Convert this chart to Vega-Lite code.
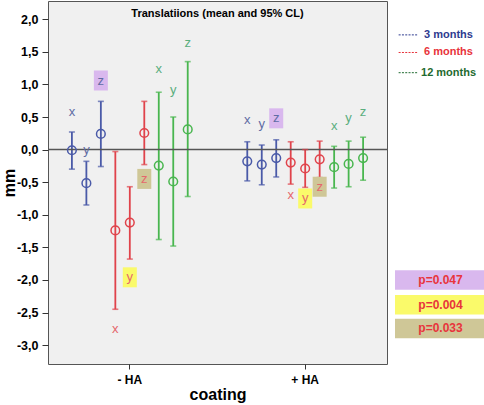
{
  "$schema": "https://vega.github.io/schema/vega-lite/v6.json",
  "padding": {"left": 0, "top": 0, "right": 0, "bottom": 0},
  "background": "white",
  "config": {"font": "Liberation Sans"},
  "spacing": 6,
  "datasets": {
    "points": [
      {"coating": "- HA", "item": 1, "month": "3 months", "axis": "x", "mean": -0.01, "lo": -0.30, "hi": 0.27, "lab": 0.57, "hl": ""},
      {"coating": "- HA", "item": 2, "month": "3 months", "axis": "y", "mean": -0.515, "lo": -0.85, "hi": -0.18, "lab": 0.0, "hl": ""},
      {"coating": "- HA", "item": 3, "month": "3 months", "axis": "z", "mean": 0.24, "lo": -0.26, "hi": 0.74, "lab": 1.06, "hl": "purple"},
      {"coating": "- HA", "item": 4, "month": "6 months", "axis": "x", "mean": -1.24, "lo": -2.45, "hi": -0.03, "lab": -2.76, "hl": ""},
      {"coating": "- HA", "item": 5, "month": "6 months", "axis": "y", "mean": -1.12, "lo": -1.68, "hi": -0.57, "lab": -1.96, "hl": "yellow"},
      {"coating": "- HA", "item": 6, "month": "6 months", "axis": "z", "mean": 0.255, "lo": -0.23, "hi": 0.74, "lab": -0.45, "hl": "tan"},
      {"coating": "- HA", "item": 7, "month": "12 months", "axis": "x", "mean": -0.245, "lo": -1.38, "hi": 0.88, "lab": 1.23, "hl": ""},
      {"coating": "- HA", "item": 8, "month": "12 months", "axis": "y", "mean": -0.49, "lo": -1.48, "hi": 0.50, "lab": 0.92, "hl": ""},
      {"coating": "- HA", "item": 9, "month": "12 months", "axis": "z", "mean": 0.31, "lo": -0.72, "hi": 1.35, "lab": 1.64, "hl": ""},
      {"coating": "+ HA", "item": 1, "month": "3 months", "axis": "x", "mean": -0.18, "lo": -0.48, "hi": 0.12, "lab": 0.45, "hl": ""},
      {"coating": "+ HA", "item": 2, "month": "3 months", "axis": "y", "mean": -0.23, "lo": -0.54, "hi": 0.07, "lab": 0.39, "hl": ""},
      {"coating": "+ HA", "item": 3, "month": "3 months", "axis": "z", "mean": -0.13, "lo": -0.42, "hi": 0.15, "lab": 0.48, "hl": "purple"},
      {"coating": "+ HA", "item": 4, "month": "6 months", "axis": "x", "mean": -0.20, "lo": -0.53, "hi": 0.12, "lab": -0.70, "hl": ""},
      {"coating": "+ HA", "item": 5, "month": "6 months", "axis": "y", "mean": -0.29, "lo": -0.58, "hi": 0.0, "lab": -0.75, "hl": "yellow"},
      {"coating": "+ HA", "item": 6, "month": "6 months", "axis": "z", "mean": -0.15, "lo": -0.43, "hi": 0.13, "lab": -0.57, "hl": "tan"},
      {"coating": "+ HA", "item": 7, "month": "12 months", "axis": "x", "mean": -0.27, "lo": -0.59, "hi": 0.05, "lab": 0.36, "hl": ""},
      {"coating": "+ HA", "item": 8, "month": "12 months", "axis": "y", "mean": -0.22, "lo": -0.57, "hi": 0.13, "lab": 0.48, "hl": ""},
      {"coating": "+ HA", "item": 9, "month": "12 months", "axis": "z", "mean": -0.13, "lo": -0.47, "hi": 0.19, "lab": 0.57, "hl": ""}
    ],
    "legend": [
      {"month": "3 months", "ly": 1.76},
      {"month": "6 months", "ly": 1.49},
      {"month": "12 months", "ly": 1.18}
    ],
    "pvals": [
      {"p": "p=0.047", "py": -2.0, "hl": "purple"},
      {"p": "p=0.004", "py": -2.38, "hl": "yellow"},
      {"p": "p=0.033", "py": -2.745, "hl": "tan"}
    ]
  },
  "hconcat": [
    {
      "width": 339,
      "height": 363,
      "view": {"fill": "#f0f0f0", "stroke": "#555555", "strokeWidth": 1},
      "data": {"name": "points"},
      "resolve": {"scale": {"color": "independent"}},
      "layer": [
        {
          "mark": {"type": "rule", "strokeWidth": 1.8},
          "encoding": {
            "x": {"field": "coating", "type": "nominal", "sort": ["- HA", "+ HA"], "scale": {"paddingInner": 0.257, "paddingOuter": 0.095},
              "axis": {"title": "coating", "titleFontSize": 16, "titleFontWeight": "bold", "titleColor": "black", "labelAngle": 0, "labelFontSize": 12, "labelFontWeight": "bold", "labelColor": "black", "tickSize": 5, "tickColor": "#333333", "labelPadding": 5, "domain": false, "titlePadding": 1}},
            "xOffset": {"field": "item", "type": "ordinal", "scale": {"paddingInner": 0, "paddingOuter": 0}},
            "y": {"field": "lo", "type": "quantitative", "title": "mm", "scale": {"domain": [-3.29, 2.28], "nice": false, "zero": false},
              "axis": {"tickCount": 11, "labelOverlap": false, "labelExpr": "replace(replace(format(datum.value, '.1f'), '.', ','), '\u2212', '-')", "labelFontSize": 12.5, "labelFontWeight": "bold", "labelColor": "black", "tickSize": 6, "tickColor": "#333333", "labelPadding": 4, "domain": false, "grid": false, "title": "mm", "titleFontSize": 16, "titleFontWeight": "bold", "titleColor": "black", "titlePadding": -1}},
            "y2": {"field": "hi"},
            "color": {"field": "month", "type": "nominal", "scale": {"domain": ["3 months", "6 months", "12 months"], "range": ["#4a5aa8", "#e0434b", "#49b64f"]}, "legend": null}
          }
        },
        {
          "data": {"values": [{}]},
          "mark": {"type": "rule", "color": "#555555", "strokeWidth": 1.5},
          "encoding": {
            "y": {"datum": 0, "type": "quantitative", "title": "mm", "scale": {"domain": [-3.29, 2.28], "nice": false, "zero": false}}
          }
        },
        {
          "mark": {"type": "tick", "orient": "horizontal", "size": 6, "thickness": 1.6},
          "encoding": {
            "x": {"field": "coating", "type": "nominal", "sort": ["- HA", "+ HA"]},
            "xOffset": {"field": "item", "type": "ordinal"},
            "y": {"field": "lo", "type": "quantitative", "title": "mm", "scale": {"domain": [-3.29, 2.28], "nice": false, "zero": false}},
            "color": {"field": "month", "type": "nominal", "scale": {"domain": ["3 months", "6 months", "12 months"], "range": ["#4a5aa8", "#e0434b", "#49b64f"]}, "legend": null}
          }
        },
        {
          "mark": {"type": "tick", "orient": "horizontal", "size": 6, "thickness": 1.6},
          "encoding": {
            "x": {"field": "coating", "type": "nominal", "sort": ["- HA", "+ HA"]},
            "xOffset": {"field": "item", "type": "ordinal"},
            "y": {"field": "hi", "type": "quantitative", "title": "mm", "scale": {"domain": [-3.29, 2.28], "nice": false, "zero": false}},
            "color": {"field": "month", "type": "nominal", "scale": {"domain": ["3 months", "6 months", "12 months"], "range": ["#4a5aa8", "#e0434b", "#49b64f"]}, "legend": null}
          }
        },
        {
          "mark": {"type": "point", "filled": false, "size": 75, "strokeWidth": 1.5, "opacity": 1},
          "encoding": {
            "x": {"field": "coating", "type": "nominal", "sort": ["- HA", "+ HA"]},
            "xOffset": {"field": "item", "type": "ordinal"},
            "y": {"field": "mean", "type": "quantitative", "title": "mm", "scale": {"domain": [-3.29, 2.28], "nice": false, "zero": false}},
            "color": {"field": "month", "type": "nominal", "scale": {"domain": ["3 months", "6 months", "12 months"], "range": ["#4a5aa8", "#e0434b", "#49b64f"]}, "legend": null}
          }
        },
        {
          "transform": [{"filter": "datum.hl != ''"}],
          "mark": {"type": "point", "shape": "M-0.7,-1H0.7V1H-0.7Z", "filled": true, "size": 400, "opacity": 1, "strokeWidth": 0},
          "encoding": {
            "x": {"field": "coating", "type": "nominal", "sort": ["- HA", "+ HA"]},
            "xOffset": {"field": "item", "type": "ordinal"},
            "y": {"field": "lab", "type": "quantitative", "title": "mm", "scale": {"domain": [-3.29, 2.28], "nice": false, "zero": false}},
            "fill": {"field": "hl", "type": "nominal", "scale": {"domain": ["purple", "yellow", "tan"], "range": ["#d9b8ee", "#fafa6a", "#cfc797"]}, "legend": null}
          }
        },
        {
          "mark": {"type": "text", "fontSize": 13, "baseline": "middle", "align": "center"},
          "encoding": {
            "x": {"field": "coating", "type": "nominal", "sort": ["- HA", "+ HA"]},
            "xOffset": {"field": "item", "type": "ordinal"},
            "y": {"field": "lab", "type": "quantitative", "title": "mm", "scale": {"domain": [-3.29, 2.28], "nice": false, "zero": false}},
            "text": {"field": "axis"},
            "color": {"field": "month", "type": "nominal", "scale": {"domain": ["3 months", "6 months", "12 months"], "range": ["#5f6ca4", "#e5676c", "#5aae7e"]}, "legend": null}
          }
        },
        {
          "data": {"values": [{"t": "Translatiions (mean and 95% CL)"}]},
          "mark": {"type": "text", "fontSize": 11, "fontWeight": "bold", "color": "black", "baseline": "middle", "align": "center"},
          "encoding": {
            "y": {"datum": 2.08, "type": "quantitative", "title": "mm", "scale": {"domain": [-3.29, 2.28], "nice": false, "zero": false}},
            "text": {"field": "t"}
          }
        }
      ]
    },
    {
      "width": 91,
      "height": 363,
      "view": {"stroke": null},
      "layer": [
        {
          "data": {"name": "pvals"},
          "mark": {"type": "point", "shape": "M-1,-0.214H1V0.214H-1Z", "filled": true, "size": 8281, "opacity": 1, "strokeWidth": 0},
          "encoding": {
            "x": {"datum": 0.5, "type": "quantitative", "scale": {"domain": [0, 1], "nice": false}, "axis": null},
            "y": {"field": "py", "type": "quantitative", "scale": {"domain": [-3.29, 2.28], "nice": false, "zero": false}, "axis": null},
            "fill": {"field": "hl", "type": "nominal", "scale": {"domain": ["purple", "yellow", "tan"], "range": ["#dcc0f0", "#ffff70", "#d6d0a0"]}, "legend": null}
          }
        },
        {
          "data": {"name": "pvals"},
          "mark": {"type": "text", "fontSize": 12, "fontWeight": "bold", "color": "#e8343c", "baseline": "middle", "align": "center"},
          "encoding": {
            "x": {"datum": 0.5, "type": "quantitative"},
            "y": {"field": "py", "type": "quantitative"},
            "text": {"field": "p"}
          }
        },
        {
          "data": {"name": "legend"},
          "mark": {"type": "rule", "strokeDash": [2, 1.3], "strokeWidth": 1},
          "encoding": {
            "x": {"datum": 0.04, "type": "quantitative"},
            "x2": {"datum": 0.255},
            "y": {"field": "ly", "type": "quantitative"},
            "color": {"field": "month", "type": "nominal", "scale": {"domain": ["3 months", "6 months", "12 months"], "range": ["#2e3b8f", "#e8333b", "#1f6b30"]}, "legend": null}
          }
        },
        {
          "data": {"name": "legend"},
          "mark": {"type": "text", "fontSize": 11, "fontWeight": "bold", "baseline": "middle", "align": "center"},
          "encoding": {
            "x": {"datum": 0.588, "type": "quantitative"},
            "y": {"field": "ly", "type": "quantitative"},
            "text": {"field": "month"},
            "color": {"field": "month", "type": "nominal", "scale": {"domain": ["3 months", "6 months", "12 months"], "range": ["#2e3b8f", "#e8333b", "#1f6b30"]}, "legend": null}
          }
        }
      ]
    }
  ]
}
